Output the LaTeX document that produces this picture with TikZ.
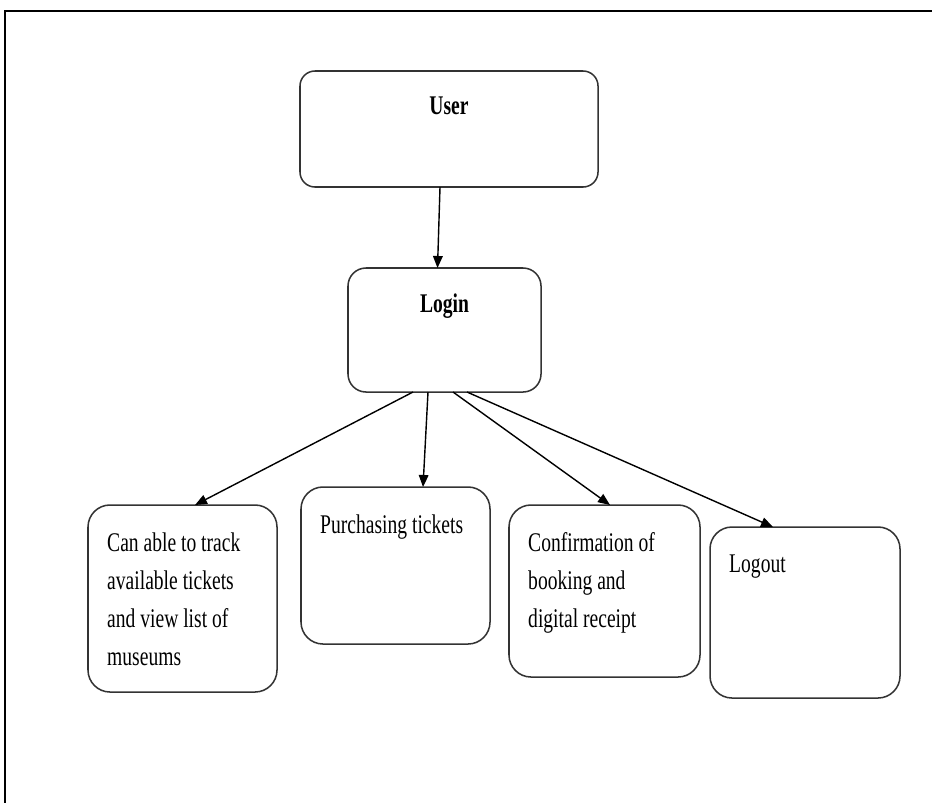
\documentclass[tikz,border=0pt]{standalone}
\usepackage{fontspec}
\setmainfont{Liberation Serif}[FakeStretch=0.726]
\usetikzlibrary{calc}
\usetikzlibrary{arrows.meta}

\tikzset{
  box/.style={draw=black!80, line width=1.3pt, rounded corners=6.6mm, anchor=north west, inner sep=0pt, outer sep=0pt},
  txt/.style={inner sep=0pt, align=left, font=\fontsize{23pt}{32.4pt}\selectfont},
  arr/.style={-{Triangle[length=3.6mm,width=2.9mm]}, line width=1.2pt},
}

\begin{document}
\begin{tikzpicture}[x=0.03cm,y=-0.03cm]
                \useasboundingbox (0,0) rectangle (932,803);
                \draw[line width=1.7pt](932,11)--(5,11)--(5,803);

                \node[box, rounded corners=4.5mm, minimum width=8.94cm, minimum height=3.48cm] (user) at (300,71) {};
                \node[box, rounded corners=5.4mm, minimum width=5.79cm, minimum height=3.72cm] (login) at (348,268) {};
                \node[box, minimum width=5.67cm, minimum height=5.61cm] (track) at (88,505) {};
                \node[box, minimum width=5.67cm, minimum height=4.71cm] (buy) at (301,487) {};
                \node[box, minimum width=5.73cm, minimum height=5.16cm] (confirm) at (509,505) {};
                \node[box, minimum width=5.70cm, minimum height=5.13cm] (logout) at (710,527) {};

                % texte des cases (base = derniere ligne)
                \node[txt, anchor=base] (usertext) at ($(user.north)+(0,43)$) {\bfseries User};
                \node[txt, anchor=base] (logintext) at ($(login.north)+(0,44)$) {\bfseries Login};
                \node[txt, anchor=base west] (tracktext) at ($(track.north west)+(19,160)$) {Can able to track\\available tickets\\and view list of\\museums};
                \node[txt, anchor=base west] (buytext) at ($(buy.north west)+(19,46)$) {Purchasing tickets};
                \node[txt, anchor=base west] (confirmtext) at ($(confirm.north west)+(19,122)$) {Confirmation of\\booking and\\digital receipt};
                \node[txt, anchor=base west] (logouttext) at ($(logout.north west)+(19,45)$) {Logout};

                \draw[arr]($(user.south)+(-9,0)$)--($(login.north)+(-7,0)$);
                \draw[arr]($(login.south)+(-31.5,0)$)--($(track.north)+(12.5,0)$);
                \draw[arr]($(login.south)+(-16.5,0)$)--($(buy.north)+(27.5,0)$);
                \draw[arr]($(login.south)+(8.5,0)$)--($(confirm.north)+(5.5,0)$);
                \draw[arr]($(login.south)+(22.5,0)$)--($(logout.north)+(-32,0)$);
\end{tikzpicture}
\end{document}
